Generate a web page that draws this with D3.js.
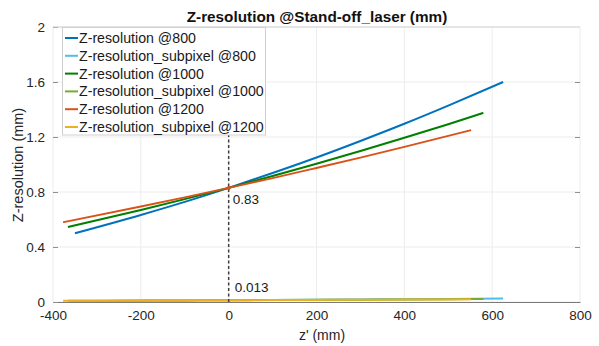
<!DOCTYPE html>
<html><head><meta charset="utf-8">
<script src="https://cdn.jsdelivr.net/npm/d3@7"></script>
<style>body{margin:0;background:#fff;} text{font-family:"Liberation Sans",Arial,sans-serif;}</style>
</head><body><svg id="c" width="599" height="346"></svg>
<script>
// ---- data ----
const xTicks = [-400, -200, 0, 200, 400, 600, 800];
const yTicks = [0, 0.4, 0.8, 1.2, 1.6, 2];
const z800  = [-350, -200, -100, 0, 100, 200, 300, 400, 500, 625];
const res800 = [0.50, 0.633, 0.728, 0.83, 0.938, 1.051, 1.171, 1.296, 1.428, 1.60];
const sub800 = [0.0078, 0.0099, 0.0114, 0.013, 0.0147, 0.0164, 0.0183, 0.0203, 0.0223, 0.025];
const z1000 = [-366, -200, -100, 0, 100, 200, 300, 400, 500, 580];
const res1000 = [0.545, 0.669, 0.748, 0.83, 0.916, 1.005, 1.098, 1.194, 1.293, 1.375];
const sub1000 = [0.0085, 0.0104, 0.0117, 0.013, 0.0143, 0.0157, 0.0172, 0.0187, 0.0202, 0.0215];
const z1200 = [-377, -200, -100, 0, 100, 200, 300, 400, 500, 552];
const res1200 = [0.58, 0.694, 0.761, 0.83, 0.901, 0.975, 1.050, 1.128, 1.208, 1.25];
const sub1200 = [0.0091, 0.0108, 0.0119, 0.013, 0.0141, 0.0152, 0.0164, 0.0176, 0.0189, 0.0195];
const seriesNames = ["Z-resolution @800", "Z-resolution_subpixel @800", "Z-resolution @1000",
  "Z-resolution_subpixel @1000", "Z-resolution @1200", "Z-resolution_subpixel @1200"];
const seriesColors = ["#0072BD", "#4DBEEE", "#007F00", "#77AC30", "#D95319", "#EDB120"];
const tipX = 0, tipMain = 0.83, tipSub = 0.013, tipTop = 1.22;

const series = [
  {x: z800, y: res800}, {x: z800, y: sub800},
  {x: z1000, y: res1000}, {x: z1000, y: sub1000},
  {x: z1200, y: res1200}, {x: z1200, y: sub1200}
];

// ---- layout ----
const svg = d3.select("#c");
const L = 53, R = 580, T = 27, B = 302;
const x = d3.scaleLinear().domain([-400, 800]).range([L, R]);
const y = d3.scaleLinear().domain([0, 2]).range([B, T]);
const FF = "'Liberation Sans',Arial,sans-serif";

// grid
const g = svg.append("g");
g.selectAll(".gx").data(xTicks).enter().append("line")
  .attr("x1", d => x(d)).attr("x2", d => x(d)).attr("y1", T).attr("y2", B)
  .attr("stroke", "#ececec").attr("stroke-width", 1);
g.selectAll(".gy").data(yTicks).enter().append("line")
  .attr("x1", L).attr("x2", R).attr("y1", d => y(d)).attr("y2", d => y(d))
  .attr("stroke", "#ececec").attr("stroke-width", 1);

// axes
const xAxis = d3.axisBottom(x).tickValues(xTicks).tickSize(0).tickPadding(8)
  .tickFormat(d => String(d));
const xa = svg.append("g").attr("transform", `translate(0,${B})`).call(xAxis);
xa.select(".domain").attr("stroke", "#7a7a7a").attr("stroke-width", 1.2);
xa.selectAll("text").attr("font-size", 13.5).attr("fill", "#262626").style("font-family", FF);

const yAxis = d3.axisLeft(y).tickValues(yTicks).tickSize(-5).tickPadding(8)
  .tickFormat(d => String(+d.toFixed(1)));
const ya = svg.append("g").attr("transform", `translate(${L},0)`).call(yAxis);
ya.select(".domain").remove();
ya.selectAll("line").attr("stroke", "#909090");
ya.selectAll("text").attr("font-size", 13.5).attr("fill", "#262626").style("font-family", FF);
const yr = svg.append("g").attr("transform", `translate(${R},0)`)
  .call(d3.axisRight(y).tickValues(yTicks.slice(1, -1)).tickSize(-5).tickFormat(""));
yr.select(".domain").remove();
yr.selectAll("line").attr("stroke", "#909090");

// top border
svg.append("line").attr("x1", L).attr("x2", R).attr("y1", T).attr("y2", T)
  .attr("stroke", "#d4d4d4");

// lines
const line = d3.line().x(d => x(d[0])).y(d => y(d[1])).curve(d3.curveMonotoneX);
series.forEach((s, i) => {
  svg.append("path").datum(s.x.map((v, j) => [v, s.y[j]]))
    .attr("d", line).attr("fill", "none")
    .attr("stroke", seriesColors[i]).attr("stroke-width", 2);
});

// datatip line
svg.append("line").attr("x1", x(tipX)).attr("x2", x(tipX))
  .attr("y1", y(0)).attr("y2", y(tipTop))
  .attr("stroke", "#404040").attr("stroke-width", 1.5).attr("stroke-dasharray", "3,2.5");
svg.append("circle").attr("cx", x(tipX)).attr("cy", y(tipMain)).attr("r", 2)
  .attr("fill", "#D95319");
svg.append("text").attr("x", x(tipX) + 4).attr("y", y(tipMain) + 16)
  .attr("font-size", 13.5).attr("fill", "#1a1a1a").text(tipMain);
svg.append("text").attr("x", x(tipX) + 6).attr("y", y(tipSub) - 8)
  .attr("font-size", 13.5).attr("fill", "#1a1a1a").text(tipSub);

// legend
const lg = svg.append("g");
lg.append("rect").attr("x", 62.5).attr("y", 27.5).attr("width", 203).attr("height", 107.5)
  .attr("fill", "#fff").attr("stroke", "#d0d0d0").attr("stroke-width", 1);
seriesNames.forEach((n, i) => {
  const yy = 38 + i * 17.8;
  lg.append("line").attr("x1", 65).attr("x2", 78).attr("y1", yy).attr("y2", yy)
    .attr("stroke", seriesColors[i]).attr("stroke-width", 2);
  lg.append("text").attr("x", 79).attr("y", yy + 5).attr("font-size", 14.2)
    .attr("fill", "#1a1a1a").text(n);
});

// titles
svg.append("text").attr("x", 317).attr("y", 22).attr("text-anchor", "middle")
  .attr("font-size", 15.3).attr("font-weight", "bold").attr("fill", "#111")
  .text("Z-resolution @Stand-off_laser (mm)");
svg.append("text").attr("x", 322).attr("y", 340).attr("text-anchor", "middle")
  .attr("font-size", 14).attr("fill", "#262626").text("z' (mm)");
svg.append("text").attr("transform", "translate(23,165) rotate(-90)")
  .attr("text-anchor", "middle").attr("font-size", 14.5).attr("fill", "#262626")
  .text("Z-resolution (mm)");
</script></body></html>
